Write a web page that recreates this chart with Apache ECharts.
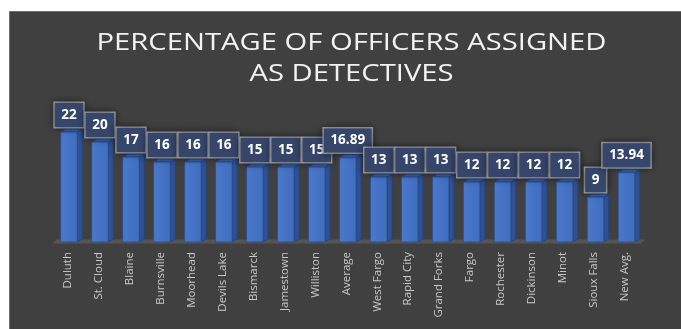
<!DOCTYPE html>
<html>
<head>
<meta charset="utf-8">
<title>Percentage of Officers Assigned as Detectives</title>
<script src="https://cdn.jsdelivr.net/npm/echarts@6/dist/echarts.min.js"></script>
<style>
  html, body { margin: 0; padding: 0; background: #ffffff; }
  #chart { width: 681px; height: 329px; }
</style>
</head>
<body>
<div id="chart"></div>
<script>
// Departments, left to right
const cities = [
  'Duluth', 'St. Cloud', 'Blaine', 'Burnsville', 'Moorhead', 'Devils Lake',
  'Bismarck', 'Jamestown', 'Williston', 'Average', 'West Fargo', 'Rapid City',
  'Grand Forks', 'Fargo', 'Rochester', 'Dickinson', 'Minot', 'Sioux Falls', 'New Avg.'
];
// Percent of sworn officers working as detectives
const detectivePct = [22, 20, 17, 16, 16, 16, 15, 15, 15, 16.89, 13, 13, 13, 12, 12, 12, 12, 9, 13.94];

const titleText = 'PERCENTAGE OF OFFICERS ASSIGNED\nAS DETECTIVES';

const rows = cities.map((c, i) => [c, detectivePct[i]]);

// pseudo-3D column geometry
const DEPTH_X = 5;
const DEPTH_Y = 3;
const FACE_RATIO = 0.535;
const FACE_SHIFT = 1.5;

function columnShape(params, api) {
  const v = api.value(1);
  const base = api.coord([api.value(0), 0]);
  const top = api.coord([api.value(0), v]);
  const band = api.size([1, 0])[0];
  const w = band * FACE_RATIO;
  const cx = base[0] + FACE_SHIFT;
  const x0 = cx - w / 2, x1 = cx + w / 2;
  const yb = base[1], yt = top[1];
  return {
    type: 'group',
    children: [
      {
        type: 'polygon',
        shape: { points: [[x1, yb], [x1 + DEPTH_X, yb - DEPTH_Y], [x1 + DEPTH_X, yt - DEPTH_Y], [x1, yt]] },
        style: { fill: '#2d5193', stroke: '#244380', lineWidth: 0.8 },
        z2: 5
      },
      {
        type: 'polygon',
        shape: { points: [[x0, yt], [x0 + DEPTH_X, yt - DEPTH_Y], [x1 + DEPTH_X, yt - DEPTH_Y], [x1, yt]] },
        style: { fill: '#3a64b0', stroke: '#244380', lineWidth: 0.8 },
        z2: 5
      },
      {
        type: 'rect',
        shape: { x: x0, y: yt, width: w, height: yb - yt },
        style: {
          fill: new echarts.graphic.LinearGradient(0, 0, 1, 0, [
            { offset: 0, color: '#4a78cb' },
            { offset: 1, color: '#406dbd' }
          ]),
          stroke: '#2a4c8c',
          lineWidth: 0.8
        },
        z2: 6
      },
      {
        type: 'text',
        x: cx,
        y: yt - 5,
        style: {
          text: String(v),
          textAlign: 'center',
          textVerticalAlign: 'bottom',
          align: 'center',
          verticalAlign: 'bottom',
          fill: '#ffffff',
          font: 'bold 13.5px "Open Sans"',
          lineHeight: 14,
          backgroundColor: '#36456a',
          borderColor: '#9a9ea6',
          borderWidth: 1.5,
          padding: [5, 6.5],
          shadowColor: 'rgba(0,0,0,0.45)',
          shadowBlur: 7
        },
        z2: 100
      }
    ]
  };
}

function floorShape(params, api) {
  const base = api.coord([api.value(0), 0]);
  const band = api.size([1, 0])[0];
  const l = base[0] - band / 2, r = base[0] + band / 2;
  const y = base[1] + 1.5;
  return {
    type: 'polygon',
    shape: { points: [[l, y], [r, y], [r + DEPTH_X, y - DEPTH_Y - 1], [l + DEPTH_X, y - DEPTH_Y - 1]] },
    style: { fill: '#555555' },
    z2: 0
  };
}

const chart = echarts.init(document.getElementById('chart'), null, { renderer: 'canvas' });

chart.setOption({
  backgroundColor: '#ffffff',
  animation: false,
  graphic: [
    {
      type: 'rect',
      z: -1,
      shape: { x: 9.5, y: 11.5, width: 680, height: 325 },
      style: { fill: '#404040', stroke: '#6e6e6e', lineWidth: 1 }
    },
    {
      type: 'text',
      z: 10,
      x: 351.5,
      y: 59,
      scaleX: 1.27,
      style: {
        text: titleText,
        textAlign: 'center',
        textVerticalAlign: 'middle',
        align: 'center',
        verticalAlign: 'middle',
        fill: '#f2f2f2',
        font: '23px "Open Sans"',
        lineHeight: 31.6
      }
    }
  ],
  grid: { left: 52, right: 40.5, top: 42, bottom: 87 },
  xAxis: {
    type: 'category',
    data: cities,
    boundaryGap: true,
    axisLine: { show: false },
    axisTick: { show: false },
    axisLabel: {
      rotate: 90,
      margin: 10,
      interval: 0,
      color: '#c8c8c8',
      fontFamily: 'Open Sans',
      fontSize: 11.5
    }
  },
  yAxis: {
    type: 'value',
    min: 0,
    max: 40,
    show: false,
    splitLine: { show: false }
  },
  series: [
    {
      type: 'custom',
      renderItem: floorShape,
      data: rows,
      encode: { x: 0, y: 1 },
      z: 2,
      silent: true
    },
    {
      type: 'custom',
      renderItem: columnShape,
      data: rows,
      encode: { x: 0, y: 1 },
      z: 3
    }
  ]
});
</script>
</body>
</html>
